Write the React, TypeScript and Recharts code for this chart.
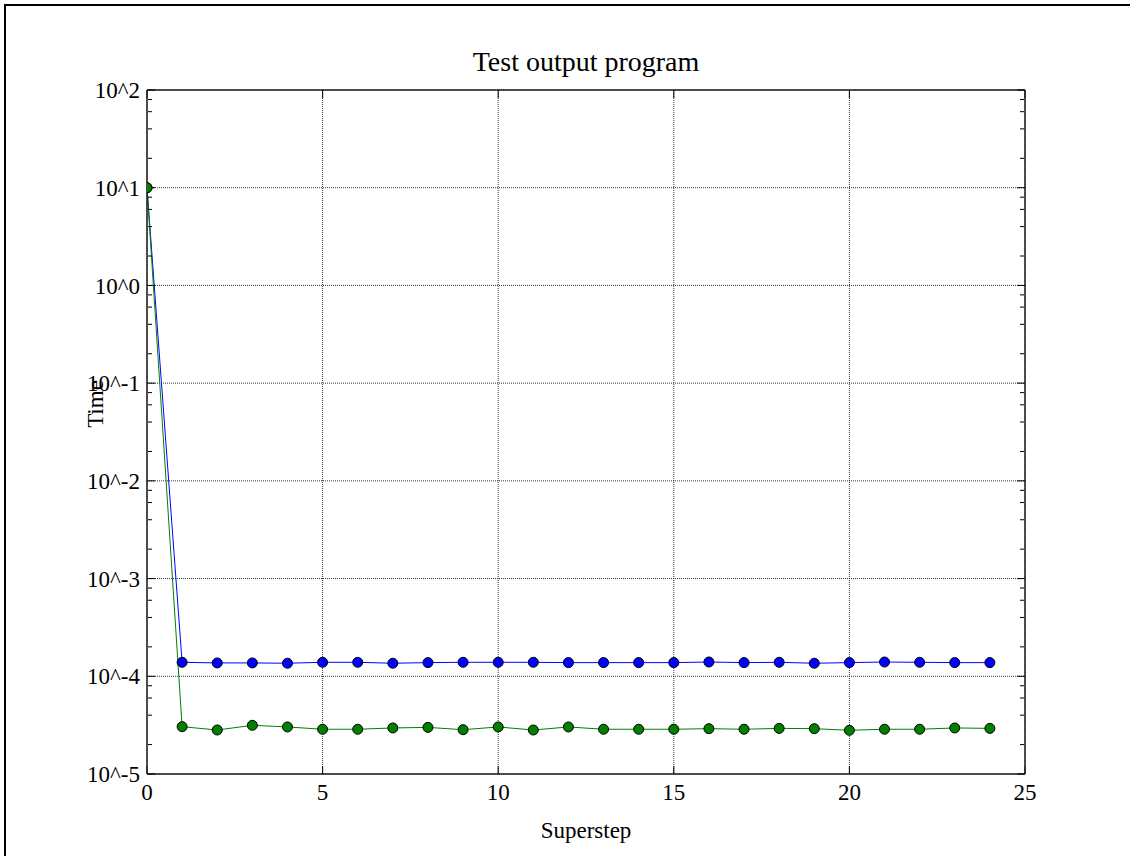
import React from 'react';
import { LineChart, Line, XAxis, YAxis, CartesianGrid } from 'recharts';

const steps = [0, 1, 2, 3, 4, 5, 6, 7, 8, 9, 10, 11, 12, 13, 14, 15, 16, 17, 18, 19, 20, 21, 22, 23, 24];

const blueTimes = [
  10, 1.39e-4, 1.37e-4, 1.37e-4, 1.36e-4, 1.39e-4, 1.39e-4, 1.36e-4, 1.38e-4, 1.39e-4,
  1.39e-4, 1.39e-4, 1.38e-4, 1.38e-4, 1.38e-4, 1.38e-4, 1.40e-4, 1.38e-4, 1.39e-4, 1.36e-4,
  1.38e-4, 1.40e-4, 1.39e-4, 1.38e-4, 1.38e-4,
];

const greenTimes = [
  10, 3.05e-5, 2.82e-5, 3.15e-5, 3.03e-5, 2.87e-5, 2.87e-5, 2.96e-5, 3.0e-5, 2.84e-5,
  3.03e-5, 2.82e-5, 3.03e-5, 2.87e-5, 2.87e-5, 2.87e-5, 2.91e-5, 2.87e-5, 2.93e-5, 2.91e-5,
  2.8e-5, 2.87e-5, 2.87e-5, 2.96e-5, 2.93e-5,
];

const xTicks = [0, 5, 10, 15, 20, 25];
const yMajorTicks = [1e-5, 1e-4, 1e-3, 1e-2, 1e-1, 1, 10, 100];
const minorMultipliers = [2, 4, 6, 8];
const yMinorTicks = yMajorTicks.slice(0, -1).flatMap((d) => minorMultipliers.map((m) => m * d));

const data = steps.map((s, i) => ({ step: s, blue: blueTimes[i], green: greenTimes[i] }));

const FONT = "'Liberation Serif', 'Times New Roman', serif";
const FRAME = '#222';
const LOG_DOMAIN: [number, number] = [1e-5, 100];

const fmtPow = (v: number) => `10^${Math.round(Math.log10(v))}`;
const empty = () => '';

export default function App() {
  return (
    <div style={{ position: 'absolute', left: 0, top: 0, width: 1130, height: 856, background: '#fff', fontFamily: FONT }}>
      <div style={{ position: 'absolute', left: 4, top: 4, width: 1126, height: 852, borderLeft: '2px solid #000', borderTop: '2px solid #000' }} />
      <LineChart
        width={1130}
        height={856}
        data={data}
        margin={{ top: 90, right: 105, bottom: 42, left: 67 }}
      >
        <CartesianGrid stroke="#333" strokeDasharray="1 1" strokeWidth={1} />
        <XAxis
          dataKey="step"
          type="number"
          domain={[0, 25]}
          ticks={xTicks}
          allowDataOverflow
          height={40}
          tickLine={false}
          tickSize={0}
          tickMargin={10}
          axisLine={{ stroke: FRAME, strokeWidth: 1.5 }}
          tick={{ fontFamily: FONT, fontSize: 23, fill: '#000' }}
          interval={0}
        />
        <XAxis
          xAxisId="bm"
          dataKey="step"
          type="number"
          domain={[0, 25]}
          ticks={xTicks}
          allowDataOverflow
          height={1}
          mirror
          tickSize={8}
          tickFormatter={empty}
          axisLine={false}
          tickLine={{ stroke: '#000' }}
          interval={0}
        />
        <XAxis
          xAxisId="tm"
          orientation="top"
          dataKey="step"
          type="number"
          domain={[0, 25]}
          ticks={xTicks}
          allowDataOverflow
          height={1}
          mirror
          tickSize={8}
          tickFormatter={empty}
          axisLine={{ stroke: FRAME, strokeWidth: 1.5 }}
          tickLine={{ stroke: '#000' }}
          interval={0}
        />
        <YAxis
          type="number"
          scale="log"
          domain={LOG_DOMAIN}
          ticks={yMajorTicks}
          allowDataOverflow
          width={80}
          tickLine={false}
          tickSize={0}
          tickMargin={7}
          tickFormatter={fmtPow}
          axisLine={{ stroke: FRAME, strokeWidth: 1.5 }}
          tick={{ fontFamily: FONT, fontSize: 23, fill: '#000' }}
          interval={0}
        />
        <YAxis
          yAxisId="lmaj"
          type="number"
          scale="log"
          domain={LOG_DOMAIN}
          ticks={yMajorTicks}
          allowDataOverflow
          width={1}
          mirror
          tickSize={8}
          tickFormatter={empty}
          axisLine={false}
          tickLine={{ stroke: '#000' }}
          interval={0}
        />
        <YAxis
          yAxisId="lmin"
          type="number"
          scale="log"
          domain={LOG_DOMAIN}
          ticks={yMinorTicks}
          allowDataOverflow
          width={1}
          mirror
          tickSize={4}
          tickFormatter={empty}
          axisLine={false}
          tickLine={{ stroke: '#000' }}
          interval={0}
        />
        <YAxis
          yAxisId="rmaj"
          orientation="right"
          type="number"
          scale="log"
          domain={LOG_DOMAIN}
          ticks={yMajorTicks}
          allowDataOverflow
          width={1}
          mirror
          tickSize={8}
          tickFormatter={empty}
          axisLine={{ stroke: FRAME, strokeWidth: 1.5 }}
          tickLine={{ stroke: '#000' }}
          interval={0}
        />
        <YAxis
          yAxisId="rmin"
          orientation="right"
          type="number"
          scale="log"
          domain={LOG_DOMAIN}
          ticks={yMinorTicks}
          allowDataOverflow
          width={1}
          mirror
          tickSize={4}
          tickFormatter={empty}
          axisLine={false}
          tickLine={{ stroke: '#000' }}
          interval={0}
        />
        <Line
          type="linear"
          dataKey="blue"
          stroke="#0000ff"
          strokeWidth={1}
          dot={{ r: 5, fill: '#0000ff', stroke: '#000', strokeWidth: 1 }}
          isAnimationActive={false}
        />
        <Line
          type="linear"
          dataKey="green"
          stroke="#007f00"
          strokeWidth={1}
          dot={{ r: 5, fill: '#007f00', stroke: '#000', strokeWidth: 1 }}
          isAnimationActive={false}
        />
      </LineChart>
      <div style={{ position: 'absolute', left: 586, top: 62, transform: 'translate(-50%, -50%)', fontSize: 28, lineHeight: '28px', whiteSpace: 'nowrap', color: '#000' }}>
        Test output program
      </div>
      <div style={{ position: 'absolute', left: 586, top: 830, transform: 'translate(-50%, -50%)', fontSize: 23, lineHeight: '23px', whiteSpace: 'nowrap', color: '#000' }}>
        Superstep
      </div>
      <div style={{ position: 'absolute', left: 95, top: 404, transform: 'translate(-50%, -50%) rotate(-90deg)', fontSize: 23, lineHeight: '23px', whiteSpace: 'nowrap', color: '#000' }}>
        Time
      </div>
    </div>
  );
}
